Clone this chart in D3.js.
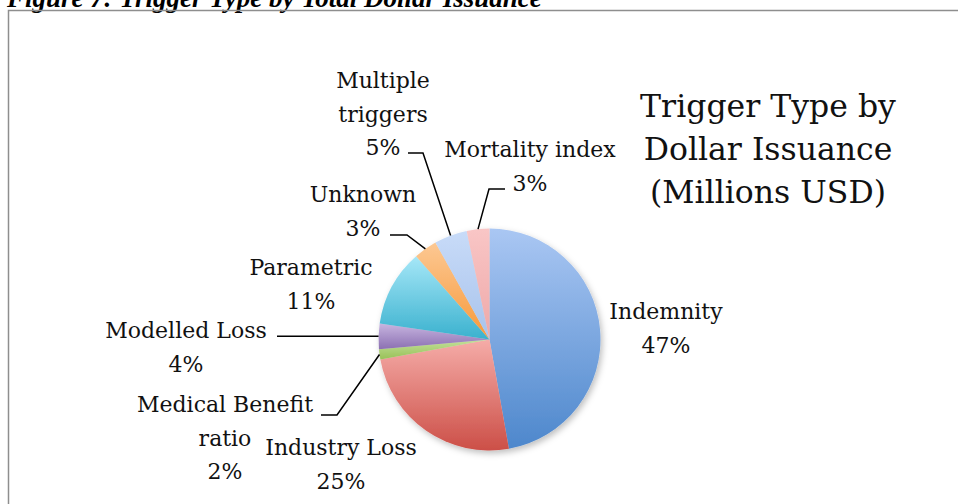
<!DOCTYPE html>
<html>
<head>
<meta charset="utf-8">
<script src="https://cdn.jsdelivr.net/npm/d3@7"></script>
<style>
  body { margin: 0; background: #fff; }
  svg { display: block; }
  .lbl { font-family: "DejaVu Serif", serif; font-size: 22px; fill: #111; }
  .bigtitle { font-family: "DejaVu Serif", serif; font-size: 31.5px; fill: #111; }
  .figtitle { font-family: "Liberation Serif", "Times New Roman", serif; font-size: 27px; font-weight: bold; font-style: italic; fill: #000; }
</style>
</head>
<body>
<svg width="958" height="504"></svg>
<script>
// DATA: share of dollar issuance by trigger type (percent)
var categories = ["Indemnity", "Industry Loss", "Medical Benefit ratio", "Modelled Loss",
                  "Parametric", "Unknown", "Multiple triggers", "Mortality index"];
var shares = [47.2, 24.9, 1.5, 3.7, 11.2, 3.4, 4.8, 3.3];
var titleLines = ["Trigger Type by", "Dollar Issuance", "(Millions USD)"];
var figureTitle = "Figure 7: Trigger Type by Total Dollar Issuance";

// slice gradients, top colour -> bottom colour
var topColors = ["#aac7f3", "#f5aca8", "#c3e09a", "#c7b5e0", "#a6e7f8", "#fcc893", "#c8dbf8", "#f9c6c6"];
var botColors = ["#4d87cc", "#cc4f47", "#98c157", "#8c70b2", "#3ab1ce", "#f7993a", "#a8c3ec", "#eea8a8"];

// label placement (centre x, first baseline) and leader line bends
var labelPos = [
  {x: 666, y: 319},
  {x: 341, y: 455},
  {x: 225, y: 412, lead: [[337, 415], [321, 415]]},
  {x: 186, y: 338, lead: "flat", to: 277},
  {x: 311, y: 275},
  {x: 363, y: 202, lead: [[407, 235], [390, 235]]},
  {x: 383, y: 88,  lead: [[423, 153], [408, 153]]},
  {x: 530, y: 157, lead: [[489, 189], [505, 189]]}
];

var svg = d3.select("svg"),
    width = +svg.attr("width"),
    height = +svg.attr("height");

var cx = 489.5, cy = 339.5, radius = 111;
var lineGap = 33.5;

// figure caption, clipped by the top of the page as in the source
svg.append("text").attr("class", "figtitle")
    .attr("x", 7).attr("y", 7)
    .text(figureTitle);

// chart frame (runs off the right / bottom of the page)
svg.append("rect")
    .attr("x", 8.5).attr("y", 10.5)
    .attr("width", 970).attr("height", 520)
    .attr("fill", "none").attr("stroke", "#8e8e8e").attr("stroke-width", 1.5);

var defs = svg.append("defs");
categories.forEach(function(c, i) {
  var g = defs.append("linearGradient").attr("id", "grad" + i)
      .attr("x1", 0).attr("y1", 0).attr("x2", 0).attr("y2", 1);
  g.append("stop").attr("offset", "0%").attr("stop-color", topColors[i]);
  g.append("stop").attr("offset", "100%").attr("stop-color", botColors[i]);
});
var shadow = defs.append("filter").attr("id", "shadow")
    .attr("x", "-20%").attr("y", "-20%").attr("width", "140%").attr("height", "140%");
shadow.append("feDropShadow").attr("dx", 2).attr("dy", 3).attr("stdDeviation", 3)
    .attr("flood-color", "#000").attr("flood-opacity", 0.25);

var pie = d3.pie().sort(null).value(function(d) { return d; });
var arcs = pie(shares);
var arc = d3.arc().innerRadius(0).outerRadius(radius);

var pieG = svg.append("g").attr("transform", "translate(" + cx + "," + cy + ")")
    .attr("filter", "url(#shadow)");
pieG.selectAll("path").data(arcs).enter().append("path")
    .attr("d", arc)
    .attr("fill", function(d, i) { return "url(#grad" + i + ")"; });

// leader lines from slice edge to label
function edgePoint(d) {
  var a = (d.startAngle + d.endAngle) / 2;
  return [cx + radius * Math.sin(a), cy - radius * Math.cos(a)];
}
var leaders = [];
arcs.forEach(function(d, i) {
  var p = labelPos[i];
  if (!p.lead) return;
  var s = edgePoint(d);
  if (p.lead === "flat") leaders.push([s, [p.to, s[1]]]);
  else leaders.push([s].concat(p.lead));
});
svg.append("g").selectAll("path").data(leaders).enter().append("path")
    .attr("d", d3.line())
    .attr("fill", "none").attr("stroke", "#000").attr("stroke-width", 1.5);

// simple word wrap like the spreadsheet labels
function wrap(name, maxChars) {
  var words = name.split(" "), lines = [], cur = "";
  words.forEach(function(w) {
    var t = cur ? cur + " " + w : w;
    if (t.length > maxChars && cur) { lines.push(cur); cur = w; }
    else cur = t;
  });
  lines.push(cur);
  return lines;
}

var labels = svg.append("g").selectAll("text").data(arcs).enter().append("text")
    .attr("class", "lbl")
    .attr("text-anchor", "middle")
    .attr("x", function(d, i) { return labelPos[i].x; })
    .attr("y", function(d, i) { return labelPos[i].y; });
labels.each(function(d, i) {
  var lines = wrap(categories[i], 15).concat([Math.round(d.value) + "%"]);
  d3.select(this).selectAll("tspan").data(lines).enter().append("tspan")
      .attr("x", labelPos[i].x)
      .attr("dy", function(t, j) { return j === 0 ? 0 : lineGap; })
      .text(function(t) { return t; });
});

// chart title on the right
svg.append("text").attr("class", "bigtitle")
    .attr("text-anchor", "middle")
    .attr("x", 768).attr("y", 117)
    .selectAll("tspan").data(titleLines).enter().append("tspan")
    .attr("x", 768)
    .attr("dy", function(t, j) { return j === 0 ? 0 : 43; })
    .text(function(t) { return t; });
</script>
</body>
</html>
